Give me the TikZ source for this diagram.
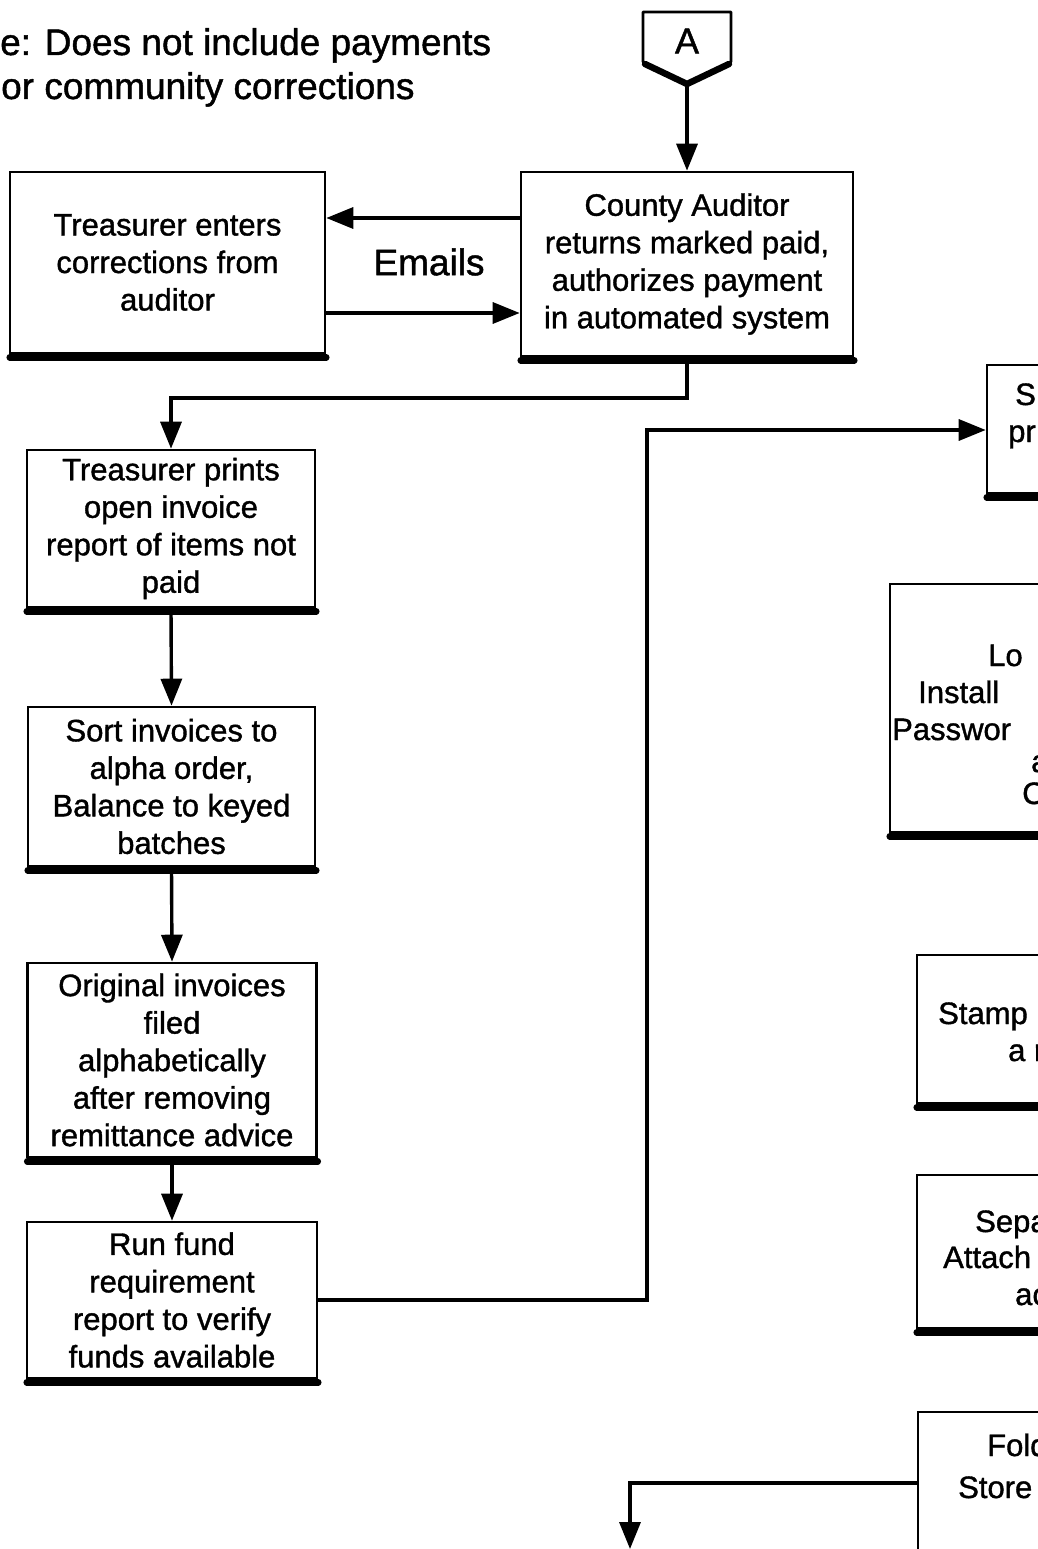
\documentclass[tikz,border=0pt]{standalone}
\usepackage{fontspec}
\setmainfont{Liberation Sans}[FakeBold=1.2]
\usetikzlibrary{arrows.meta}
\newcommand\boxfont{\fontsize{31}{37.5}\selectfont}
\newcommand\bigfont{\fontsize{37}{44}\selectfont}
\begin{document}
\begin{tikzpicture}[x=1pt,y=-1pt,
  box/.style={draw,line width=2.6pt,rectangle,inner sep=0pt,align=center,font=\boxfont},
  arr/.style={line width=3.4pt,-{Triangle[length=27pt,width=21pt]}},
  shade/.style={line width=6.5pt,line cap=round},
  part/.style={anchor=base west,inner sep=0pt,font=\boxfont},
  note/.style={anchor=base west,inner sep=0pt,font=\bigfont}]
\useasboundingbox (0,0) rectangle (1038,1549);
\clip (0,0) rectangle (1038,1549);

% note
\node[note] (n1) at (0,55) {e: Does not include payments};
\node[note] (n2) at (1,99) {or community corrections};

% off-page connector A
\draw[line width=2.6pt,line join=round] (643,12) -- (731,12) -- (731,62) -- (687,83) -- (643,62) -- cycle;
\draw[line width=6.5pt,line join=round,line cap=round] (645,64) -- (687,84) -- (729,64);
\node[font=\fontsize{36}{40}\selectfont,inner sep=0pt] (A) at (687,41) {A};
\coordinate (Atip) at (687,86);

% left column boxes
\node[box,minimum width=315pt,minimum height=181pt] (b1) at (167.5,262.5) {Treasurer enters\\corrections from\\auditor};
\node[box,minimum width=332pt,minimum height=184pt] (b2) at (687,264) {County Auditor\\returns marked paid,\\authorizes payment\\in automated system};
\node[box,minimum width=288pt,minimum height=157pt] (b3) at (171,528.5) {Treasurer prints\\open invoice\\report of items not\\paid};
\node[box,minimum width=287pt,minimum height=159pt] (b4) at (171.5,786.5) {Sort invoices to\\alpha order,\\Balance to keyed\\batches};
\node[box,minimum width=289pt,minimum height=194pt] (b5) at (172,1060) {Original invoices\\filed\\alphabetically\\after removing\\remittance advice};
\node[box,minimum width=290pt,minimum height=156pt] (b6) at (172,1300) {Run fund\\requirement\\report to verify\\funds available};

% right column boxes (cut by the page edge)
\node[box,minimum width=153pt,minimum height=128pt] (r1) at (1063.5,429) {};
\node[box,minimum width=250pt,minimum height=248pt] (r2) at (1015,708) {};
\node[box,minimum width=223pt,minimum height=148pt] (r3) at (1028.5,1029) {};
\node[box,minimum width=223pt,minimum height=153pt] (r4) at (1028.5,1251.5) {};
\node[box,minimum width=223pt,minimum height=200pt] (r5) at (1029.5,1512) {};

% bottom shadows
\foreach \b in {b1,b2,b3,b4,b5,b6,r1,r2,r3,r4}{
  \draw[shade] ([yshift=-3pt,xshift=1pt]\b.south west) -- ([yshift=-3pt]\b.south east);
}

% partial texts of right boxes
\node[part] (t1) at (1015,405) {S};
\node[part] (t2) at (1008,442) {pr};
\node[part] (t3) at (988,666) {Lo};
\node[part] (t4) at (918,703) {Install};
\node[part] (t5) at (892,740) {Passwor};
\node[part] (t6) at (1031,772) {a};
\node[part] (t7) at (1022,804) {C};
\node[part] (t8) at (938,1024) {Stamp};
\node[part] (t9) at (1008,1061) {a r};
\node[part] (t10) at (975,1232) {Sepa};
\node[part] (t11) at (943,1268) {Attach};
\node[part] (t12) at (1015,1305) {ac};
\node[part] (t13) at (987,1456) {Fold};
\node[part] (t14) at (958,1498) {Store};

% Emails label
\node[font=\bigfont,inner sep=0pt] (em) at (429,262) {Emails};

% connectors
\draw[arr] (Atip) -- (b2.north);
\draw[arr] (b2.west |- 0,218) -- (b1.east |- 0,218);
\draw[arr] (b1.east |- 0,313) -- (b2.west |- 0,313);
\draw[arr] (b2.south) |- (b3.north |- 0,398) -- (b3.north);
\draw[arr] (b3.south) -- (b4.north);
\draw[arr] (b4.south) -- (b5.north);
\draw[arr] (b5.south) -- (b6.north);
\draw[arr] (b6.east) -| (647,430) -- (r1.west |- 0,430);
\coordinate (bottomend) at (630,1549);
\draw[arr] (r5.west |- 0,1483) -| (bottomend);
\end{tikzpicture}
\end{document}
